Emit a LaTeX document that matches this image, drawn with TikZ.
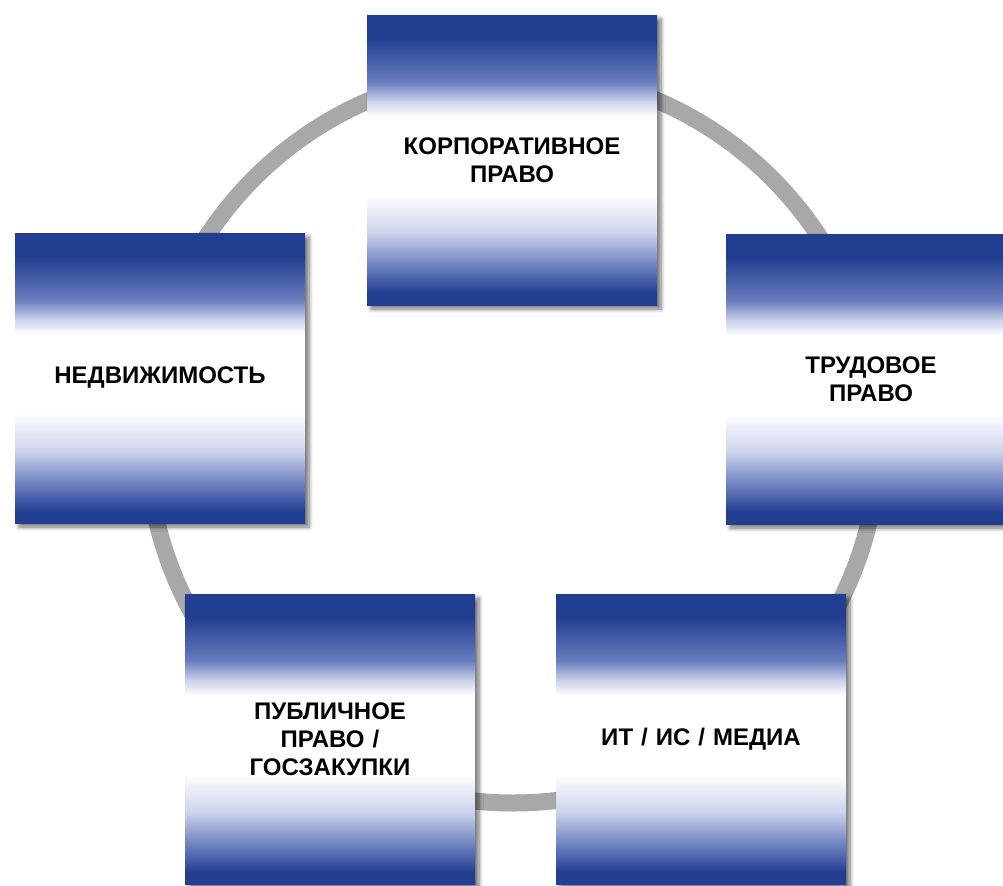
\documentclass[tikz,border=0pt]{standalone}
\usepackage{fontspec}
\setmainfont{Liberation Sans}
\usetikzlibrary{shadows.blur}
\definecolor{boxblue}{RGB}{34,62,145}
\definecolor{boxmid}{RGB}{105,125,190}
\definecolor{boxlight}{RGB}{205,212,236}
\definecolor{ringgray}{RGB}{168,168,168}
\pgfdeclareverticalshading{boxfade}{100bp}{color(0bp)=(boxblue); color(25bp)=(boxblue);
  color(27bp)=(boxblue); color(31.5bp)=(boxmid); color(37.5bp)=(boxlight); color(44bp)=(white);
  color(57.5bp)=(white); color(60bp)=(boxlight); color(63.5bp)=(boxmid); color(71bp)=(boxblue);
  color(75bp)=(boxblue); color(100bp)=(boxblue)}
\begin{document}
\begin{tikzpicture}[x=0.5pt, y=-0.5pt,
    area/.style={shading=boxfade, minimum width=145pt, minimum height=145pt,
      inner sep=0pt, text width=130pt, align=center,
      font=\fontsize{12}{14}\selectfont\bfseries,
      blur shadow={shadow xshift=2pt, shadow yshift=-2pt, shadow opacity=55, shadow blur steps=6}},
    ring/.style={draw=ringgray, line width=8.5pt}]
  \useasboundingbox (0,0) rectangle (1003,885);
  \clip (0,0) rectangle (1003,885);
  % ring behind the boxes
  \draw[ring] (513,437) circle [radius=183pt];
  % boxes
  \node[area] (corp) at (512,160) {КОРПОРАТИВНОЕ\\ПРАВО};
  \node[area] (estate) at (160,378) {НЕДВИЖИМОСТЬ};
  \node[area] (labour) at (871,379) {ТРУДОВОЕ\\ПРАВО};
  \node[area] (public) at (330,739) {ПУБЛИЧНОЕ\\ПРАВО /\\ГОСЗАКУПКИ};
  \node[area] (media) at (701,739) {ИТ / ИС / МЕДИА};
\end{tikzpicture}
\end{document}
